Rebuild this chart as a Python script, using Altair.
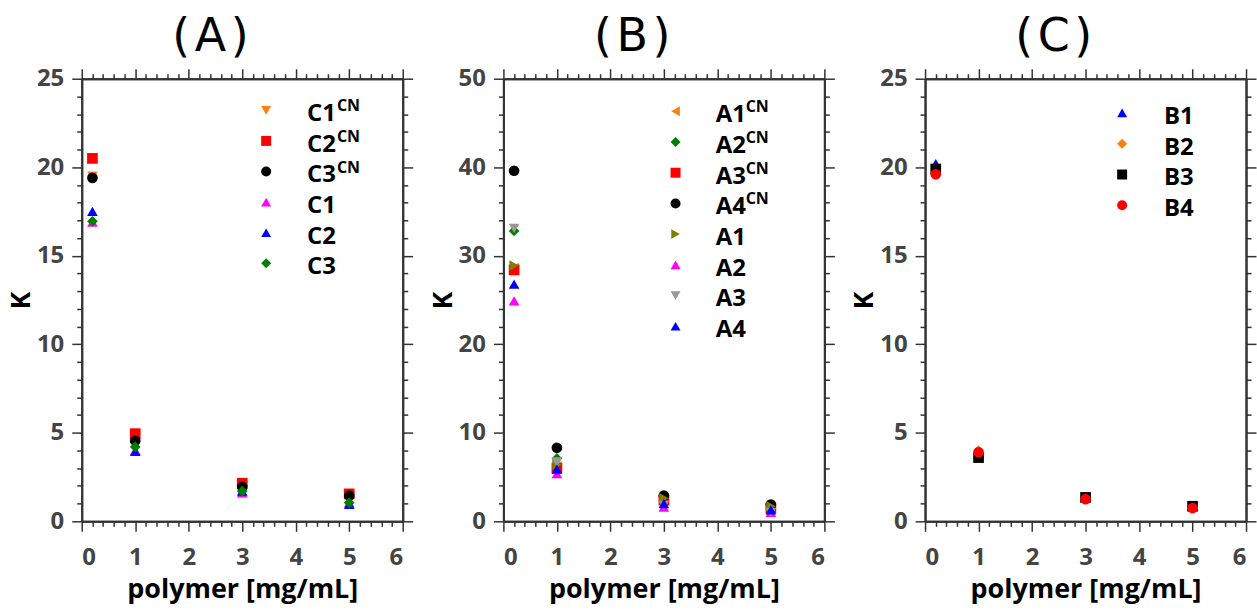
import altair as alt
import pandas as pd

FONT = "Open Sans"
TITLE_FONT = "DejaVu Sans"

x_vals = [0.2, 1, 3, 5]

# Panel (A)
a_keys = ["C1CN", "C2CN", "C3CN", "C1", "C2", "C3"]
a_labels = ["C1", "C2", "C3", "C1", "C2", "C3"]
a_sups = ["CN", "CN", "CN", "", "", ""]
a_colors = ["#ff7f0e", "#ff0000", "#000000", "#ff00ff", "#0000ff", "#008000"]
a_shapes = ["triangle-down", "square", "circle", "triangle-up", "triangle-up", "diamond"]
a_c1cn = [19.5, 4.7, 2.0, 1.4]
a_c2cn = [20.5, 4.95, 2.15, 1.55]
a_c3cn = [19.4, 4.55, 1.95, 1.45]
a_c1 = [16.9, 4.0, 1.6, 1.05]
a_c2 = [17.5, 3.95, 1.7, 0.95]
a_c3 = [16.95, 4.2, 1.7, 1.05]
a_values = [a_c1cn, a_c2cn, a_c3cn, a_c1, a_c2, a_c3]

# Panel (B)
b_keys = ["A1CN", "A2CN", "A3CN", "A4CN", "A1", "A2", "A3", "A4"]
b_labels = ["A1", "A2", "A3", "A4", "A1", "A2", "A3", "A4"]
b_sups = ["CN", "CN", "CN", "CN", "", "", "", ""]
b_colors = ["#ff7f0e", "#008000", "#ff0000", "#000000", "#808000", "#ff00ff", "#999999", "#0000ff"]
b_shapes = ["triangle-left", "diamond", "square", "circle", "triangle-right", "triangle-up", "triangle-down", "triangle-up"]
b_a1cn = [28.6, 6.2, 2.5, 1.6]
b_a2cn = [32.8, 7.1, 2.3, 1.4]
b_a3cn = [28.4, 6.0, 2.4, 1.5]
b_a4cn = [39.6, 8.3, 2.9, 1.9]
b_a1 = [28.9, 6.4, 2.6, 1.7]
b_a2 = [24.9, 5.4, 1.6, 1.0]
b_a3 = [33.1, 6.7, 1.8, 1.0]
b_a4 = [26.8, 5.9, 2.0, 1.3]
b_values = [b_a1cn, b_a2cn, b_a3cn, b_a4cn, b_a1, b_a2, b_a3, b_a4]

# Panel (C)
c_keys = ["B1", "B2", "B3", "B4"]
c_labels = ["B1", "B2", "B3", "B4"]
c_sups = ["", "", "", ""]
c_colors = ["#0000ff", "#ff7f0e", "#000000", "#ff0000"]
c_shapes = ["triangle-up", "diamond", "square", "circle"]
c_b1 = [20.2, 3.8, 1.35, 0.85]
c_b2 = [19.8, 4.0, 1.3, 0.8]
c_b3 = [19.9, 3.6, 1.35, 0.85]
c_b4 = [19.6, 3.9, 1.25, 0.75]
c_values = [c_b1, c_b2, c_b3, c_b4]

PW, PH = 322, 444
AXC = "#333333"
HS = "\u200a"  # hair space for title spacing


def panel(title, keys, labels, sups, colors, shapes, values, ymax, ymaj, ymin,
          sym_x, txt_x, leg_y0, leg_dy):
    rows = []
    for k, vals in zip(keys, values):
        for xv, yv in zip(x_vals, vals):
            rows.append({"series": k, "x": xv, "y": yv})
    df = pd.DataFrame(rows)
    xs = alt.Scale(domain=[0, 6], nice=False, zero=False)
    ys = alt.Scale(domain=[0, ymax], nice=False, zero=False)
    xmaj = list(range(0, 7))
    xmin = [round(i * 0.2, 1) for i in range(31) if i % 5]
    ymajv = list(range(0, ymax + 1, ymaj))
    yminv = [v for v in range(0, ymax + 1, ymin) if v % ymaj]

    base = alt.Chart(df)
    pts = base.mark_point(filled=True, size=115, opacity=1).encode(
        x=alt.X("x:Q", scale=xs, axis=alt.Axis(values=xmaj, orient="bottom", title="polymer [mg/mL]",
                                               tickSize=10, labelPadding=14, titlePadding=7)),
        y=alt.Y("y:Q", scale=ys, axis=alt.Axis(values=ymajv, orient="left", title="K",
                                               tickSize=10, labelPadding=8, titlePadding=1)),
        color=alt.Color("series:N", scale=alt.Scale(domain=keys, range=colors), legend=None),
        shape=alt.Shape("series:N", scale=alt.Scale(domain=keys, range=shapes), legend=None),
    )
    minor_bl = base.mark_point(opacity=0).encode(
        x=alt.X("x:Q", scale=xs, axis=alt.Axis(values=xmin, orient="bottom", title=None,
                                               labels=False, tickSize=5)),
        y=alt.Y("y:Q", scale=ys, axis=alt.Axis(values=yminv, orient="left", title=None,
                                               labels=False, tickSize=5)),
    )
    major_tr = base.mark_point(opacity=0).encode(
        x=alt.X("x:Q", scale=xs, axis=alt.Axis(values=xmaj, orient="top", title=None,
                                               labels=False, tickSize=10)),
        y=alt.Y("y:Q", scale=ys, axis=alt.Axis(values=ymajv, orient="right", title=None,
                                               labels=False, tickSize=10)),
    )
    minor_tr = base.mark_point(opacity=0).encode(
        x=alt.X("x:Q", scale=xs, axis=alt.Axis(values=xmin, orient="top", title=None,
                                               labels=False, tickSize=5)),
        y=alt.Y("y:Q", scale=ys, axis=alt.Axis(values=yminv, orient="right", title=None,
                                               labels=False, tickSize=5)),
    )

    one = pd.DataFrame({"d": [0]})
    leg = []
    for i, (lab, sup, col, shp) in enumerate(zip(labels, sups, colors, shapes)):
        sy = leg_y0 + i * leg_dy
        leg.append(alt.Chart(one).mark_point(filled=True, shape=shp, color=col, size=100, opacity=1)
                   .encode(x=alt.value(sym_x), y=alt.value(sy)))
        leg.append(alt.Chart(one).mark_text(text=lab, align="left", baseline="alphabetic", font=FONT,
                                            fontSize=24, fontWeight="bold", color="black")
                   .encode(x=alt.value(txt_x), y=alt.value(sy + 11)))
        if sup:
            leg.append(alt.Chart(one).mark_text(text=sup, align="left", baseline="alphabetic", font=FONT,
                                                fontSize=16, fontWeight="bold", color="black")
                       .encode(x=alt.value(txt_x + 30), y=alt.value(sy + 1)))

    return alt.layer(minor_bl, major_tr, minor_tr, pts, *leg).resolve_axis(
        x="independent", y="independent"
    ).properties(
        width=PW, height=PH,
        title=alt.TitleParams(title, font=TITLE_FONT, fontSize=46, fontWeight="normal",
                              color="black", anchor="middle", frame="bounds", offset=6),
    )


pA = panel("(" + HS + "A" + HS + ")", a_keys, a_labels, a_sups, a_colors, a_shapes, a_values, 25, 5, 1,
           185, 226, 31.7, 30.7)
pB = panel("(" + HS + "B" + HS + ")", b_keys, b_labels, b_sups, b_colors, b_shapes, b_values, 50, 10, 2,
           172.7, 213, 32.7, 30.8)
pC = panel("(" + HS + "C" + HS + ")", c_keys, c_labels, c_sups, c_colors, c_shapes, c_values, 25, 5, 1,
           197.7, 239.7, 34.3, 30.9)

chart = alt.hconcat(pA, pB, pC, spacing=15).resolve_scale(
    color="independent", shape="independent"
).properties(
    padding={"left": 7, "top": 13, "right": 0, "bottom": 5},
    background="white",
).configure_view(stroke=None).configure_axis(
    grid=False,
    domainColor=AXC, domainWidth=2,
    tickColor=AXC, tickWidth=1.5,
    labelFont=FONT, labelFontSize=24, labelFontWeight="bold", labelColor="#444444",
    titleFont=FONT, titleFontSize=27, titleFontWeight="bold", titleColor="black",
)

chart.save("out.html", embed_options={"renderer": "svg", "actions": False})
